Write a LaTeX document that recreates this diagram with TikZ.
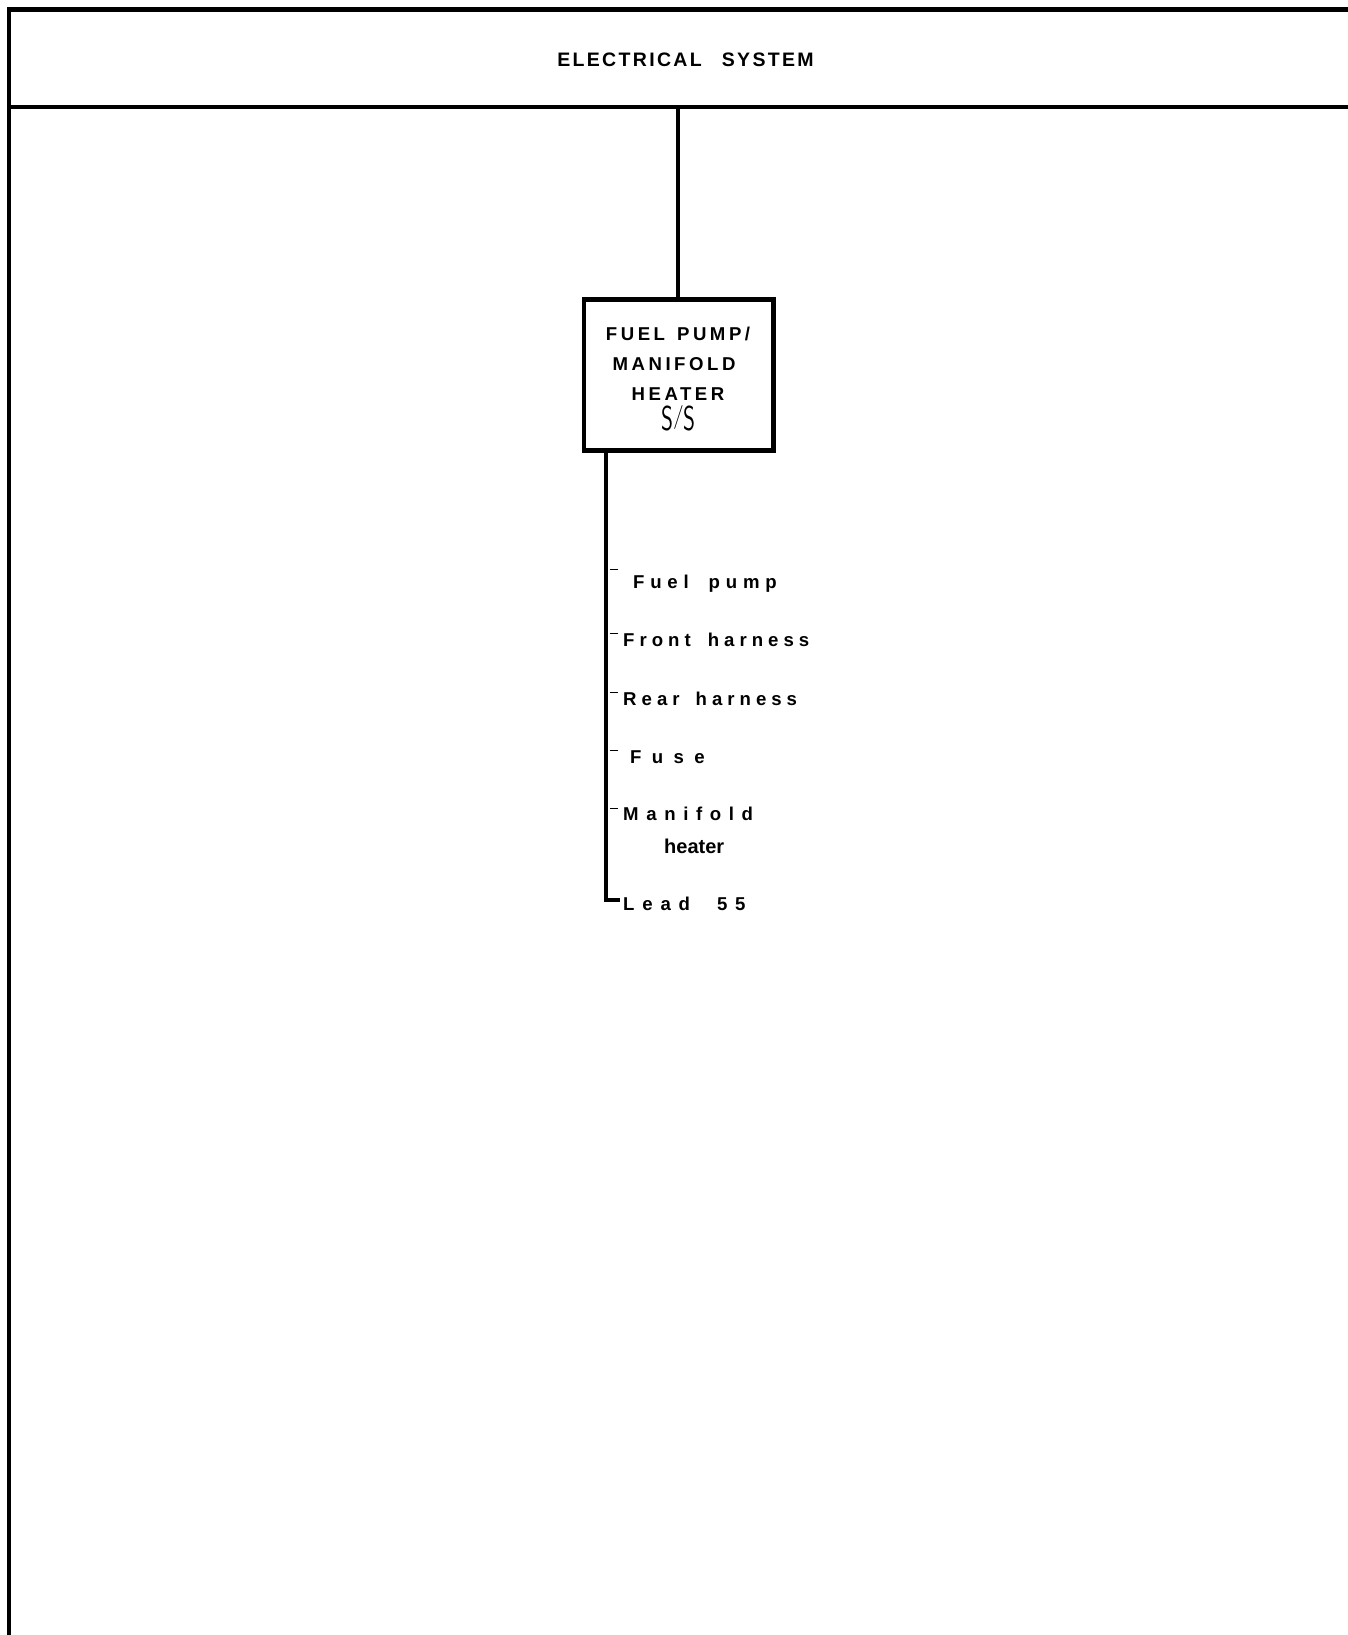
\documentclass[tikz,border=0pt]{standalone}
\usepackage{fontspec}
\usepackage{graphicx}
\setmainfont{Liberation Sans}
\setsansfont{Latin Modern Sans}
\begin{document}
\begin{tikzpicture}[x=1pt,y=-1pt,
  frame/.style={line width=4.8pt},
  tickline/.style={line width=1pt},
  titletext/.style={anchor=base, inner sep=0pt,
    font=\fontsize{19.5}{22}\selectfont\bfseries\addfontfeature{LetterSpace=12}},
  boxtext/.style={anchor=base, inner sep=0pt,
    font=\fontsize{18.6}{21}\selectfont\bfseries\addfontfeature{LetterSpace=19}},
  lbl/.style={anchor=base west, inner sep=0pt,
    font=\fontsize{18.6}{21}\selectfont\bfseries\addfontfeature{LetterSpace=#1}},
  lbl/.default=25,
]
\useasboundingbox (0,0) rectangle (1348,1635);
% frame
\draw[frame] (1352,9.5) -- (9,9.5) -- (9,1640);
\draw[frame] (9,107) -- (1352,107);
\coordinate (hdr) at (678,107);
% title
\node[titletext] (title) at (685.5,66.7) {ELECTRICAL\hspace{20pt}SYSTEM};
% box
\node[draw, frame, minimum width=189.5, minimum height=151, inner sep=0pt] (box) at (678.75,375) {};
\node[boxtext] (b1) at (678,340) {FUEL\hspace{12pt}PUMP/};
\node[boxtext] (b2) at (674,370.7) {MANIFOLD};
\node[boxtext] (b3) at (678,400) {HEATER};
\node[anchor=base, inner sep=0pt] (b4) at (678.5,430)
  {\scalebox{0.66}[1]{\sffamily\fontsize{34.6}{36}\selectfont S\raisebox{0.174em}{\scalebox{1}[0.694]{/}}S}};
\draw[frame] (hdr) -- (box.north -| hdr);
% bus
\coordinate (bus) at (606,900);
\coordinate (leadend) at (620,900);
\draw[frame] (box.south -| bus) -- (bus) -- (leadend);
% labels
\node[lbl=31] (l1) at (633,588.3) {Fuel\hspace{20pt}pump};
\node[lbl=27] (l2) at (623,646.7) {Front\hspace{17pt}harness};
\node[lbl=27] (l3) at (623,705.7) {Rear\hspace{16pt}harness};
\node[lbl=28] (l4) at (630,763) {F u s e};
\node[lbl=41] (l5) at (623,820.7) {Manifold};
\node[anchor=base west, inner sep=0pt, font=\fontsize{20}{22}\selectfont\bfseries] (l6) at (664,853) {heater};
\node[lbl=42] (l7) at (623,910) {Lead\hspace{27pt}55};
% ticks
\foreach \yy in {569,633,692,750,808}
  \draw[tickline] (610,\yy) -- (618,\yy);
\end{tikzpicture}
\end{document}
